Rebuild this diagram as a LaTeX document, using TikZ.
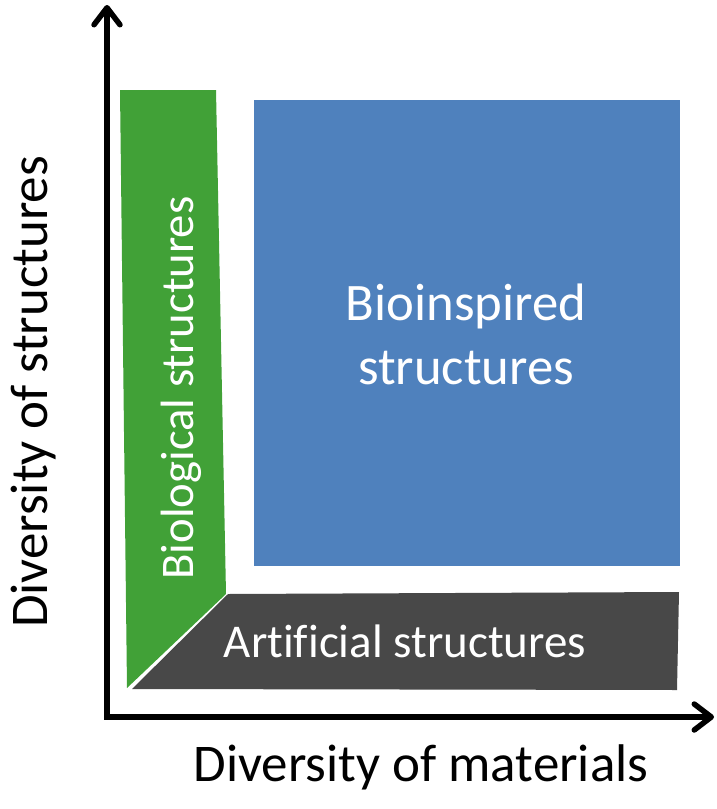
\documentclass[tikz,border=0pt]{standalone}
\usepackage{fontspec}
\setmainfont{Carlito}[Ligatures=NoCommon]
\usetikzlibrary{arrows.meta}
\definecolor{bioGreen}{RGB}{65,161,55}
\definecolor{inspBlue}{RGB}{79,129,189}
\definecolor{artGray}{RGB}{72,72,72}
\tikzstyle{regionText} = [text=white, align=center, inner sep=0pt]
\tikzstyle{axisText} = [text=black, inner sep=0pt, font=\fontsize{53}{60}\selectfont]
\tikzstyle{axis} = [line width=5.5pt, line join=miter, {Straight Barb[length=17pt,width=26pt,round]}-{Straight Barb[length=17pt,width=26pt,round]}]

\begin{document}
\begin{tikzpicture} [x=1pt, y=-1pt]
        \useasboundingbox (0,0) rectangle (716,809);

        % regions
        \fill[bioGreen] (120,90) -- (216,90) -- (226,594) -- (127,688) -- cycle;
        \fill[artGray] (228,594) -- (679,592) -- (677,690) -- (132,689) -- cycle;
        \fill[inspBlue] (254,100) rectangle (680,566);

        \node (bioinspired) [regionText, font=\fontsize{52.7}{64}\selectfont] at (466,334) {Bioinspired\\structures};
        \node (biological) [regionText, anchor=base, rotate=90, font=\fontsize{46.7}{52}\selectfont] at (193,388) {Biological structures};
        \node (artificial) [regionText, anchor=base, font=\fontsize{47}{52}\selectfont] at (405,657) {Artificial structures};

        % axes
        \coordinate (origin) at (107,717);
        \coordinate (yend) at (107,5);
        \coordinate (xend) at (714,717);
        \draw[axis] (yend) -- (origin) -- (xend);

        \node (ylabel) [axisText, anchor=base, rotate=90] at (47,392) {Diversity of structures};
        \node (xlabel) [axisText, anchor=base] at (421,781) {Diversity of materials};

    \end{tikzpicture}
\end{document}
